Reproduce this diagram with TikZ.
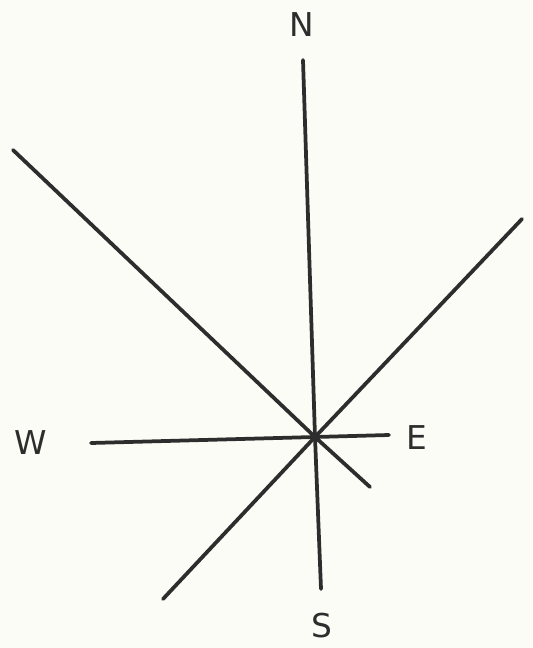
\documentclass[tikz,border=0pt]{standalone}
\usepackage{fontspec}
\setsansfont{DejaVu Sans}
\definecolor{paper}{RGB}{252,252,246}
\definecolor{ink}{RGB}{45,45,45}
\begin{document}
\begin{tikzpicture}[x=0.03cm, y=-0.03cm, line width=3.2pt, line cap=round,
    dir/.style={font=\sffamily\fontsize{28}{28}\selectfont, text=ink, inner sep=0pt}]
    % Paper
    \fill[paper] (0,0) rectangle (532,648);
    \useasboundingbox (0,0) rectangle (532,648);

    % Ends of the lines
    \coordinate (c) at (315,437);
    \coordinate (n) at (303,60);
    \coordinate (s) at (321,589);
    \coordinate (w) at (91,443);
    \coordinate (e) at (389,435);
    \coordinate (nw) at (13,150);
    \coordinate (se) at (370,487);
    \coordinate (ne) at (522,219);
    \coordinate (sw) at (163,599);

    % Lines through the centre
    \draw[ink] (n) -- (c) -- (s);
    \draw[ink] (w) -- (c) -- (e);
    \draw[ink] (nw) -- (c) -- (se);
    \draw[ink] (ne) -- (c) -- (sw);
    \fill[ink] (c) circle (4.5);

    % Points of the compass
    \node[dir] (lN) at (302,25) {N};
    \node[dir] (lS) at (322,626) {S};
    \node[dir] (lW) at (31,443) {W};
    \node[dir] (lE) at (417,438) {E};
\end{tikzpicture}
\end{document}
